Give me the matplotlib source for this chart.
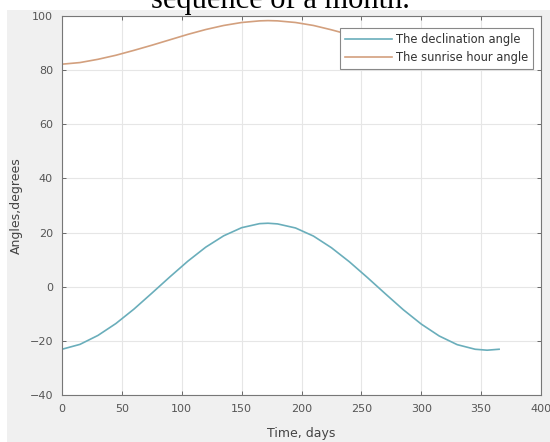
import matplotlib
matplotlib.use("Agg")
import matplotlib.pyplot as plt
from matplotlib.patches import Rectangle

# days of the year and the two angles
days = [0, 15, 30, 45, 60, 75, 90, 105, 120, 135, 150, 165, 172, 180,
        195, 210, 225, 240, 255, 270, 285, 300, 315, 330, 345, 355, 365]
declination = [-23.1, -21.3, -18.0, -13.6, -8.3, -2.4, 3.6, 9.4, 14.6, 18.8,
               21.8, 23.3, 23.45, 23.2, 21.7, 18.7, 14.4, 9.2, 3.4, -2.6,
               -8.5, -13.8, -18.2, -21.4, -23.1, -23.45, -23.1]
sunrise = [82.2, 82.8, 84.0, 85.5, 87.3, 89.2, 91.2, 93.2, 95.0, 96.5,
           97.6, 98.2, 98.3, 98.2, 97.6, 96.5, 94.9, 93.1, 91.1, 88.9,
           87.2, 85.3, 83.8, 82.6, 82.0, 81.9, 82.0]

xticks = [0, 50, 100, 150, 200, 250, 300, 350, 400]
yticks = [-40, -20, 0, 20, 40, 60, 80, 100]

fig = plt.figure(figsize=(5.5, 4.42), dpi=100, facecolor="white")

# grey MATLAB-style figure panel below the cut-off caption line
fig.patches.append(Rectangle((7 / 550, 0), 1, 1 - 10 / 442,
                             transform=fig.transFigure, facecolor="#f0f0f0",
                             edgecolor="none", zorder=-5))
fig.text(0.51, 1 - 8 / 442, "sequence of a month.", ha="center",
         va="baseline", fontsize=22, family="Liberation Serif", color="black")

ax = fig.add_axes([62 / 550, 1 - 395 / 442, 479 / 550, 379 / 442])
ax.set_zorder(1)
ax.set_facecolor("white")
ax.plot(days, declination, color="#6aaebb", lw=1.2, label="The declination angle")
ax.plot(days, sunrise, color="#d3a07e", lw=1.2, label="The sunrise hour angle")

ax.set_xlim(0, 400)
ax.set_ylim(-40, 100)
ax.set_xticks(xticks)
ax.set_yticks(yticks)
ax.grid(True, color="#e6e6e6", lw=0.8)
ax.set_axisbelow(True)
ax.tick_params(direction="in", top=True, right=True, length=3, pad=6.5,
               labelsize=8, colors="#555555", width=0.6)
for s in ax.spines.values():
    s.set_color("#777777")
    s.set_linewidth(0.8)

ax.set_xlabel("Time, days", fontsize=9, color="#444444", labelpad=9)
ax.set_ylabel("Angles,degrees", fontsize=9, color="#444444", labelpad=5)

leg = ax.legend(loc="upper right", bbox_to_anchor=(0.9833, 0.9683),
                borderaxespad=0, fontsize=8.3, frameon=True, fancybox=False,
                handlelength=4.1, labelspacing=0.45, borderpad=0.42,
                handletextpad=0.3, framealpha=1)
leg.get_frame().set_edgecolor("#888888")
leg.get_frame().set_linewidth(0.8)
for t in leg.get_texts():
    t.set_color("#333333")

fig.savefig("out.png", dpi=100)
